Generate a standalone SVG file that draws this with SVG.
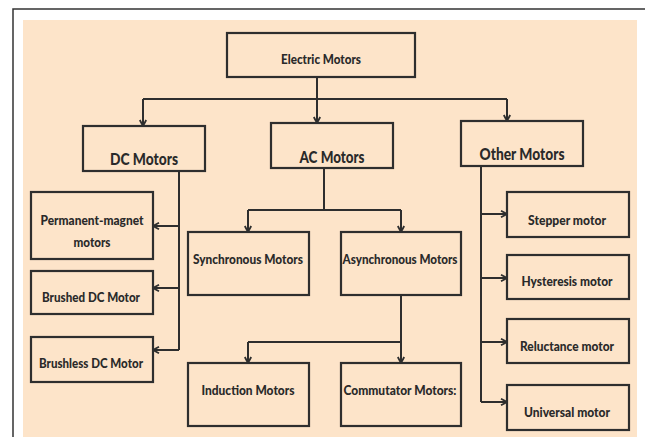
<svg xmlns="http://www.w3.org/2000/svg" width="645" height="437" viewBox="0 0 645 437">
<defs>
<style>
.box{fill:none;stroke:#2e2e2e;stroke-width:2.2}
.ln{fill:none;stroke:#2e2e2e;stroke-width:2}
text{font-family:Lato,"Liberation Sans",sans-serif;font-weight:900;fill:#2a2a2a;text-anchor:middle;font-size:13px}
.big{font-size:17px}
</style>
<marker id="ah" viewBox="0 0 8 8" refX="7" refY="4" markerWidth="8" markerHeight="8" markerUnits="userSpaceOnUse" orient="auto">
<path d="M1,0.8 L7,4 L1,7.2" fill="none" stroke="#2e2e2e" stroke-width="1.8"/>
</marker>
</defs>
<rect x="0" y="0" width="645" height="437" fill="#ffffff"/>
<path d="M13,437 V9 H645" fill="none" stroke="#333" stroke-width="1.5"/>
<rect x="23" y="20" width="614" height="417" fill="#fde4c9"/>
<g id="connectors">
<path class="ln" d="M317,77 V123" marker-end="url(#ah)"/>
<path class="ln" d="M143,99 H507"/>
<path class="ln" d="M143,99 V126" marker-end="url(#ah)"/>
<path class="ln" d="M507,99 V121" marker-end="url(#ah)"/>
<path class="ln" d="M179,171 V350"/>
<path class="ln" d="M179,226 H153" marker-end="url(#ah)"/>
<path class="ln" d="M179,288 H153" marker-end="url(#ah)"/>
<path class="ln" d="M179,350 H153" marker-end="url(#ah)"/>
<path class="ln" d="M324,168 V210"/>
<path class="ln" d="M248,210 H401"/>
<path class="ln" d="M248,210 V232" marker-end="url(#ah)"/>
<path class="ln" d="M401,210 V232" marker-end="url(#ah)"/>
<path class="ln" d="M401,295 V342"/>
<path class="ln" d="M248,342 H401"/>
<path class="ln" d="M248,342 V363" marker-end="url(#ah)"/>
<path class="ln" d="M401,342 V363" marker-end="url(#ah)"/>
<path class="ln" d="M481,166 V402"/>
<path class="ln" d="M481,214 H507" marker-end="url(#ah)"/>
<path class="ln" d="M481,278 H507" marker-end="url(#ah)"/>
<path class="ln" d="M481,342 H507" marker-end="url(#ah)"/>
<path class="ln" d="M481,402 H507" marker-end="url(#ah)"/>
</g>
<g id="electric"><rect class="box" x="227" y="33" width="188" height="44"/><text x="321" y="64" textLength="80" lengthAdjust="spacingAndGlyphs">Electric Motors</text></g>
<g id="dc"><rect class="box" x="83" y="126" width="122" height="45"/><text class="big" x="144" y="165" textLength="68" lengthAdjust="spacingAndGlyphs">DC Motors</text></g>
<g id="ac"><rect class="box" x="271" y="123" width="122" height="45"/><text class="big" x="332" y="163" textLength="65" lengthAdjust="spacingAndGlyphs">AC Motors</text></g>
<g id="other"><rect class="box" x="461" y="121" width="122" height="45"/><text class="big" x="522" y="160" textLength="85" lengthAdjust="spacingAndGlyphs">Other Motors</text></g>
<g id="pm"><rect class="box" x="31" y="192" width="122" height="67"/><text x="92" y="225" textLength="103" lengthAdjust="spacingAndGlyphs">Permanent-magnet</text><text x="92" y="247" textLength="37" lengthAdjust="spacingAndGlyphs">motors</text></g>
<g id="brushed"><rect class="box" x="31" y="271" width="122" height="43"/><text x="91" y="302" textLength="98" lengthAdjust="spacingAndGlyphs">Brushed DC Motor</text></g>
<g id="brushless"><rect class="box" x="31" y="337" width="122" height="45"/><text x="91" y="368" textLength="104" lengthAdjust="spacingAndGlyphs">Brushless DC Motor</text></g>
<g id="sync"><rect class="box" x="188" y="232" width="121" height="63"/><text x="248" y="264" textLength="110" lengthAdjust="spacingAndGlyphs">Synchronous Motors</text></g>
<g id="async"><rect class="box" x="341" y="232" width="120" height="63"/><text x="400" y="264" textLength="115" lengthAdjust="spacingAndGlyphs">Asynchronous Motors</text></g>
<g id="induction"><rect class="box" x="188" y="363" width="121" height="63"/><text x="248" y="395" textLength="93" lengthAdjust="spacingAndGlyphs">Induction Motors</text></g>
<g id="commutator"><rect class="box" x="341" y="363" width="120" height="63"/><text x="400" y="395" textLength="113" lengthAdjust="spacingAndGlyphs">Commutator Motors:</text></g>
<g id="stepper"><rect class="box" x="507" y="192" width="122" height="45"/><text x="567" y="225" textLength="78" lengthAdjust="spacingAndGlyphs">Stepper motor</text></g>
<g id="hysteresis"><rect class="box" x="507" y="255" width="122" height="44"/><text x="567" y="286" textLength="91" lengthAdjust="spacingAndGlyphs">Hysteresis motor</text></g>
<g id="reluctance"><rect class="box" x="507" y="319" width="122" height="44"/><text x="567" y="351" textLength="94" lengthAdjust="spacingAndGlyphs">Reluctance motor</text></g>
<g id="universal"><rect class="box" x="507" y="385" width="122" height="45"/><text x="567" y="417" textLength="86" lengthAdjust="spacingAndGlyphs">Universal motor</text></g>
</svg>
